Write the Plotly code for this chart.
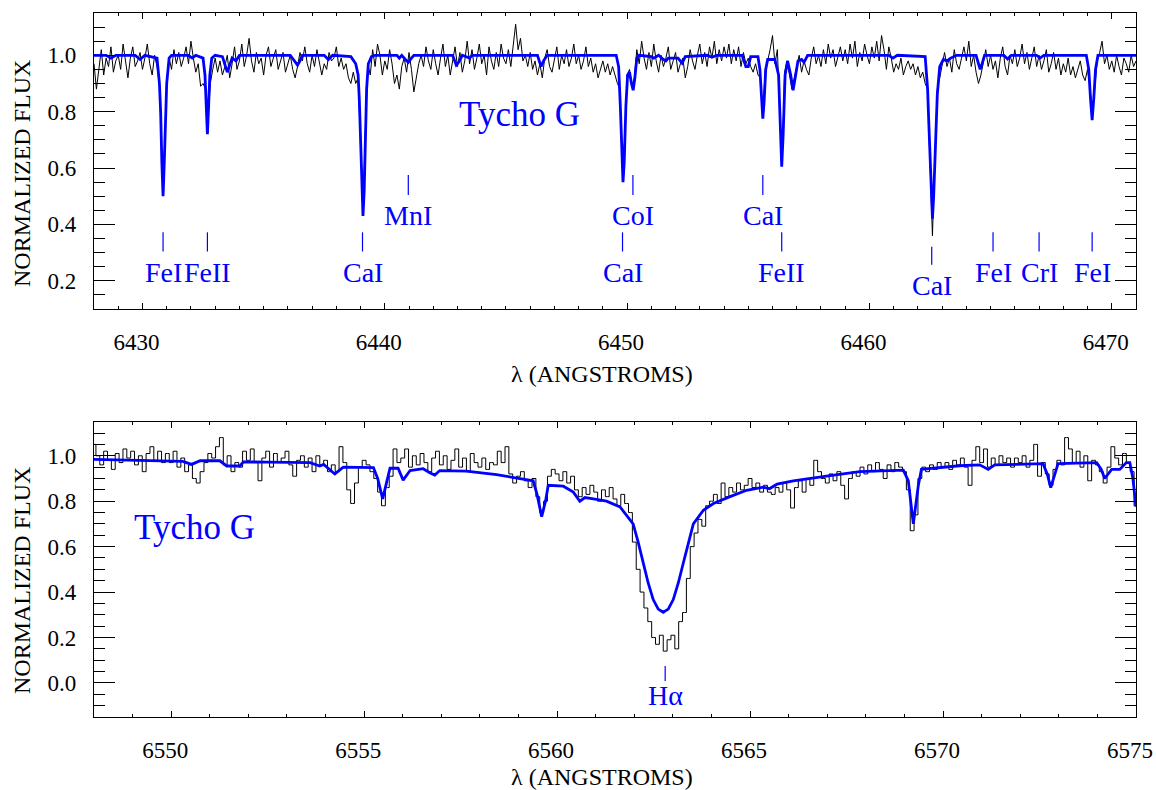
import numpy as np
import plotly.graph_objs as go

# ---------------- data ----------------
# observed spectra, sampled every 0.1 A starting at the given wavelength
top_obs_start = 6428.0
top_obs_flux = [
    0.97, 0.88, 0.95, 1.02, 0.93, 0.99, 0.96, 1.03, 0.94, 0.98,
    1.00, 0.95, 1.04, 0.97, 0.92, 0.99, 1.03, 0.96, 0.98, 1.01,
    0.95, 0.99, 1.04, 0.97, 0.93, 1.00, 0.96, 0.90, 0.64, 0.64,
    0.91, 0.99, 0.95, 1.02, 0.97, 1.01, 0.96, 0.99, 1.03, 0.97,
    1.05, 0.99, 0.94, 0.97, 0.89, 0.90, 0.88, 0.76, 0.90, 0.95,
    0.99, 0.94, 0.98, 0.93, 0.96, 1.00, 0.92, 0.97, 1.03, 0.95,
    0.98, 1.04, 0.96, 1.00, 1.06, 0.98, 0.94, 1.01, 0.97, 0.99,
    0.93, 1.00, 1.03, 0.96, 0.99, 1.02, 0.95, 0.98, 1.01, 0.94,
    0.97, 1.00, 0.95, 0.92, 0.96, 1.01, 0.98, 1.03, 0.97, 0.94,
    1.00, 0.96, 1.02, 0.98, 0.93, 0.97, 0.95, 1.01, 0.98, 0.99,
    1.03, 0.96, 0.99, 0.95, 0.97, 0.92, 0.90, 0.94, 0.90, 0.92,
    0.70, 0.45, 0.74, 0.97, 0.93, 1.02, 0.96, 1.04, 1.00, 0.93,
    0.98, 0.95, 1.02, 0.97, 0.90, 0.93, 0.88, 0.96, 0.99, 0.94,
    1.01, 0.95, 0.87, 0.92, 0.97, 1.00, 0.96, 1.03, 0.98, 0.95,
    1.02, 0.97, 0.93, 0.99, 1.04, 0.96, 1.00, 0.93, 0.98, 1.03,
    0.96, 1.01, 0.94, 0.98, 1.05, 0.97, 1.02, 0.95, 0.99, 1.04,
    0.97, 1.00, 0.93, 1.03, 0.98, 0.95, 1.01, 0.96, 1.04, 0.99,
    0.97, 1.02, 0.96, 1.03, 1.11, 1.02, 1.06, 0.98, 1.00, 0.96,
    1.01, 0.95, 0.98, 0.93, 0.97, 0.92, 0.99, 1.02, 0.96, 0.94,
    0.99, 1.03, 0.95, 1.00, 0.97, 1.02, 0.96, 0.99, 1.04, 0.97,
    1.00, 0.95, 0.98, 1.03, 0.96, 0.99, 0.94, 0.97, 0.92, 0.95,
    0.98, 0.94, 0.97, 0.93, 0.96, 0.93, 0.90, 0.88, 0.60, 0.70,
    0.93, 0.95, 0.89, 0.92, 1.02, 0.97, 1.05, 0.99, 0.95, 1.01,
    0.96, 1.04, 0.98, 0.94, 1.00, 0.96, 0.99, 1.03, 0.95, 0.98,
    1.01, 0.94, 0.97, 0.99, 0.92, 0.96, 1.02, 0.98, 0.95, 1.00,
    1.04, 0.97, 1.01, 0.96, 1.03, 0.99, 1.05, 0.97, 1.02, 0.98,
    1.03, 0.99, 1.04, 0.97, 1.02, 0.98, 1.03, 0.96, 1.01, 0.97,
    0.99, 0.96, 0.94, 0.97, 0.93, 0.92, 0.79, 0.95, 0.98, 1.02,
    1.07, 0.97, 1.02, 0.80, 0.62, 0.94, 0.98, 0.93, 0.88, 0.92,
    0.96, 1.00, 0.94, 0.98, 0.95, 0.93, 0.99, 1.03, 0.97, 1.00,
    0.96, 1.02, 0.97, 1.04, 0.99, 1.02, 0.96, 1.00, 1.03, 0.98,
    1.02, 0.97, 1.04, 0.99, 1.05, 0.96, 1.01, 0.98, 1.04, 1.00,
    0.97, 1.03, 0.99, 1.05, 0.98, 1.07, 1.02, 0.95, 1.03, 0.99,
    0.94, 0.97, 0.95, 0.99, 0.93, 0.96, 0.98, 0.95, 0.97, 0.93,
    0.96, 0.92, 0.94, 0.90, 0.88, 0.62, 0.36, 0.63, 0.88, 0.92,
    0.97, 1.01, 0.96, 0.99, 0.94, 1.02, 0.97, 0.95, 0.99, 1.03,
    0.98, 1.05, 0.96, 1.00, 0.94, 0.90, 0.93, 0.97, 1.02, 0.96,
    1.00, 0.95, 0.98, 0.92, 0.99, 1.03, 0.96, 0.93, 1.00, 0.97,
    1.02, 0.96, 0.99, 1.04, 0.97, 1.01, 0.95, 0.99, 1.03, 0.96,
    1.00, 0.95, 0.98, 1.02, 0.94, 0.97, 1.01, 0.95, 0.99, 0.93,
    0.97, 0.94, 0.99, 0.93, 0.96, 0.92, 0.95, 0.98, 0.93, 0.91,
    0.95, 0.89, 0.79, 0.88, 0.98, 1.01, 1.05, 0.97, 1.00, 0.95,
    0.98, 0.94, 1.00, 0.96, 0.93, 0.99, 0.97, 0.94, 1.00, 0.96,
    0.98,
]

bot_obs_start = 6548.0
bot_obs_flux = [
    1.05, 1.00, 0.96, 1.02, 0.98, 0.94, 1.01, 0.97, 1.03, 0.99,
    1.02, 0.96, 1.00, 0.93, 1.01, 1.04, 0.98, 1.02, 0.97, 1.01,
    0.97, 1.02, 0.95, 0.99, 0.93, 0.96, 0.90, 0.88, 0.93, 0.97,
    1.01, 0.99, 1.04, 1.08, 0.96, 1.00, 0.93, 0.97, 0.95, 1.02,
    0.98, 1.03, 0.97, 0.89, 0.99, 1.02, 0.95, 1.01, 0.97, 0.99,
    1.02, 0.96, 0.91, 0.98, 1.00, 0.95, 0.99, 0.93, 1.00, 0.96,
    0.98, 0.93, 0.96, 0.93, 1.04, 0.97, 0.85, 0.79, 0.88, 0.95,
    0.98, 0.96, 0.93, 0.90, 0.84, 0.78, 0.86, 0.91, 1.03, 0.97,
    0.99, 1.03, 0.95, 1.00, 0.96, 1.01, 0.97, 0.93, 0.99, 1.02,
    0.96, 1.00, 0.94, 0.98, 1.03, 0.95, 0.99, 0.93, 1.01, 0.97,
    0.95, 0.99, 0.94, 0.97, 0.96, 1.02, 0.97, 1.04, 0.92, 0.88,
    0.91, 0.93, 0.89, 0.86, 0.90, 0.82, 0.75, 0.80, 0.91, 0.94,
    0.92, 0.89, 0.93, 0.88, 0.91, 0.85, 0.82, 0.86, 0.83, 0.87,
    0.84, 0.80, 0.85, 0.82, 0.86, 0.81, 0.78, 0.83, 0.79, 0.75,
    0.62, 0.50, 0.40, 0.33, 0.27, 0.20, 0.17, 0.21, 0.14, 0.19,
    0.21, 0.15, 0.27, 0.31, 0.46, 0.60, 0.66, 0.72, 0.69, 0.78,
    0.80, 0.83, 0.79, 0.88, 0.82, 0.86, 0.84, 0.88, 0.85, 0.87,
    0.90, 0.86, 0.88, 0.84, 0.87, 0.84, 0.83, 0.86, 0.84, 0.88,
    0.85, 0.77, 0.86, 0.89, 0.84, 0.90, 0.87, 0.98, 0.93, 0.90,
    0.88, 0.92, 0.89, 0.93, 0.87, 0.81, 0.90, 0.93, 0.91, 0.95,
    0.92, 0.96, 0.93, 0.97, 0.94, 0.90, 0.96, 0.93, 0.97, 0.95,
    0.93, 0.85, 0.67, 0.74, 0.90, 0.95, 0.93, 0.96, 0.94, 0.97,
    0.95, 0.97, 0.94, 0.98, 0.96, 0.99, 0.95, 0.87, 0.98, 1.04,
    0.97, 1.03, 0.95, 0.99, 0.96, 1.00, 0.97, 0.99, 0.95, 0.99,
    0.97, 1.00, 0.95, 0.98, 1.05, 0.91, 0.97, 0.92, 0.87, 0.94,
    0.98, 0.96, 1.08, 1.03, 0.97, 1.02, 0.95, 1.00, 0.89, 0.98,
    0.96, 0.93, 0.88, 0.95, 1.04, 0.99, 0.96, 1.01, 0.97, 0.93,
    0.78,
]

# synthetic (model) spectra
top_model_wave = [
    6428.0, 6428.5, 6428.7, 6428.9, 6429.7, 6429.9, 6430.1, 6430.6, 6430.7, 6430.75,
    6430.8, 6430.85, 6430.9, 6430.95, 6431.0, 6431.1, 6431.2, 6431.9, 6432.05, 6432.2,
    6432.5, 6432.58, 6432.63, 6432.68, 6432.73, 6432.78, 6432.86, 6433.0, 6433.3, 6433.42,
    6433.5, 6433.58, 6433.7, 6433.86, 6434.0, 6436.1, 6436.3, 6436.4, 6436.5, 6436.6,
    6437.5, 6437.67, 6437.85, 6438.6, 6438.8, 6438.9, 6438.95, 6439.0, 6439.05, 6439.1,
    6439.15, 6439.2, 6439.25, 6439.32, 6439.45, 6439.6, 6440.5, 6440.6, 6440.7, 6440.85,
    6440.97, 6441.1, 6441.2, 6442.8, 6442.95, 6443.05, 6443.2, 6443.5, 6443.6, 6446.3,
    6446.45, 6446.55, 6446.7, 6449.55, 6449.65, 6449.72, 6449.78, 6449.83, 6449.88, 6449.95,
    6450.02, 6450.1, 6450.18, 6450.25, 6450.32, 6450.4, 6450.5, 6451.0, 6451.1, 6451.3,
    6451.5, 6451.6, 6451.7, 6452.1, 6452.27, 6452.4, 6453.3, 6453.5, 6453.7, 6454.75,
    6454.9, 6455.0, 6455.1, 6455.4, 6455.48, 6455.55, 6455.6, 6455.65, 6455.72, 6455.8,
    6456.1, 6456.25, 6456.32, 6456.38, 6456.44, 6456.52, 6456.62, 6456.75, 6456.85, 6456.95,
    6457.05, 6457.2, 6457.3, 6457.45, 6460.8, 6460.97, 6461.15, 6462.3, 6462.4, 6462.45,
    6462.5, 6462.55, 6462.6, 6462.65, 6462.7, 6462.75, 6462.8, 6462.9, 6463.05, 6463.2,
    6463.35, 6463.6, 6464.4, 6464.5, 6464.57, 6464.65, 6464.75, 6465.55, 6465.7, 6465.85,
    6466.9, 6467.04, 6467.2, 6468.95, 6469.05, 6469.12, 6469.19, 6469.26, 6469.33, 6469.43,
    6471.0,
]
top_model_flux = [
    1.0, 1.0, 0.99, 1.0, 1.0, 0.985, 1.0, 0.99, 0.9, 0.8,
    0.62, 0.50, 0.62, 0.8, 0.9, 0.99, 1.0, 1.0, 0.99, 1.0,
    0.99, 0.93, 0.82, 0.72, 0.82, 0.93, 0.99, 1.0, 0.995, 0.96,
    0.94, 0.96, 0.99, 0.98, 1.0, 1.0, 0.975, 0.965, 0.98, 1.0,
    1.0, 0.985, 1.0, 0.995, 0.97, 0.93, 0.84, 0.68, 0.50, 0.43,
    0.52, 0.72, 0.88, 0.97, 0.995, 1.0, 1.0, 0.99, 1.0, 0.985,
    0.975, 0.99, 1.0, 1.0, 0.965, 0.975, 1.0, 0.99, 1.0, 1.0,
    0.96, 0.98, 1.0, 1.0, 0.96, 0.82, 0.62, 0.55, 0.62, 0.82,
    0.93, 0.94, 0.90, 0.876, 0.92, 0.99, 1.0, 0.995, 0.99, 1.0,
    0.985, 0.98, 0.99, 0.99, 0.972, 0.995, 1.0, 0.993, 1.0, 1.0,
    0.96, 0.96, 0.995, 0.995, 0.95, 0.83, 0.775, 0.83, 0.95, 0.985,
    0.985, 0.93, 0.72, 0.605, 0.72, 0.93, 0.98, 0.93, 0.876, 0.93,
    0.98, 0.985, 0.975, 1.0, 1.0, 0.99, 1.0, 0.995, 0.88, 0.76,
    0.62, 0.50, 0.42, 0.50, 0.62, 0.74, 0.86, 0.96, 0.985, 0.98,
    0.99, 1.0, 1.0, 0.97, 0.95, 0.97, 1.0, 1.0, 0.987, 1.0,
    1.0, 0.99, 1.0, 1.0, 0.95, 0.85, 0.77, 0.85, 0.95, 1.0,
    1.0,
]

bot_model_wave = [
    6548.0, 6549.0, 6549.88, 6550.3, 6550.53, 6550.75, 6551.26, 6551.44, 6551.78, 6551.87,
    6552.5, 6553.6, 6553.85, 6553.95, 6554.24, 6554.46, 6555.24, 6555.35, 6555.48, 6555.6,
    6555.67, 6555.88, 6556.01, 6556.19, 6556.53, 6556.7, 6556.83, 6556.96, 6557.65, 6558.43,
    6559.38, 6559.48, 6559.6, 6559.7, 6559.77, 6560.16, 6560.42, 6560.59, 6560.72, 6560.94,
    6561.28, 6561.63, 6561.97, 6562.1, 6562.23, 6562.36, 6562.49, 6562.62, 6562.75, 6562.88,
    6563.01, 6563.14, 6563.27, 6563.4, 6563.53, 6563.79, 6564.05, 6564.48, 6564.91, 6565.34,
    6565.5, 6565.7, 6566.12, 6566.98, 6567.84, 6568.97, 6569.1, 6569.23, 6569.36, 6569.44,
    6570.43, 6570.95, 6571.17, 6571.34, 6572.16, 6572.59, 6572.7, 6572.79, 6572.9, 6572.98,
    6573.98, 6574.1, 6574.19, 6574.37, 6574.58, 6574.75, 6574.84, 6574.92, 6575.0,
]
bot_model_flux = [
    0.984, 0.98, 0.977, 0.975, 0.962, 0.978, 0.978, 0.955, 0.955, 0.973,
    0.972, 0.97, 0.955, 0.962, 0.92, 0.95, 0.948, 0.9, 0.81, 0.9,
    0.945, 0.945, 0.893, 0.935, 0.943, 0.925, 0.915, 0.935, 0.932, 0.917,
    0.89, 0.83, 0.732, 0.8, 0.87, 0.866, 0.84, 0.80, 0.816, 0.81,
    0.80, 0.775, 0.70, 0.62, 0.528, 0.44, 0.367, 0.325, 0.311, 0.325,
    0.367, 0.44, 0.528, 0.62, 0.70, 0.76, 0.79, 0.82, 0.848, 0.862,
    0.855, 0.875, 0.89, 0.91, 0.93, 0.937, 0.89, 0.70, 0.87, 0.94,
    0.956, 0.96, 0.94, 0.96, 0.965, 0.965, 0.92, 0.86, 0.92, 0.965,
    0.97, 0.94, 0.90, 0.94, 0.94, 0.97, 0.97, 0.9, 0.776,
]

# line identifications
top_line_wave = [6430.85, 6432.68, 6439.08, 6440.97, 6449.81, 6450.24,
                 6455.60, 6456.38, 6462.57, 6465.10, 6467.00, 6469.19]
top_line_name = ['FeI', 'FeII', 'CaI', 'MnI', 'CaI', 'CoI',
                 'CaI', 'FeII', 'CaI', 'FeI', 'CrI', 'FeI']
top_line_row = ['low', 'low', 'low', 'high', 'low', 'high',
                'high', 'low', 'lowest', 'low', 'low', 'low']
bot_line_wave = [6562.80]
bot_line_name = ['H\u03b1']

star_name = 'Tycho G'

# ---------------- layout helpers ----------------
W, H = 1156, 790
FONT = 'Liberation Serif'
BLUE = 'rgb(0,0,255)'

# marker tick (bottom, top) and label centre, in flux units, per row
row_pos = {'high': (0.504, 0.575, 0.430),
           'low': (0.304, 0.372, 0.230),
           'lowest': (0.257, 0.321, 0.182)}
bot_row_pos = (0.009, 0.075, -0.057)

top_wave = np.round(top_obs_start + 0.1 * np.arange(len(top_obs_flux)), 2)
bot_wave = np.round(bot_obs_start + 0.1 * np.arange(len(bot_obs_flux)), 2)

xdom = [94 / W, 1136 / W]
ydom_top = [1 - 309 / H, 1 - 13 / H]
ydom_bot = [1 - 717 / H, 1 - 421.7 / H]

fig = go.Figure()

# top panel
fig.add_trace(go.Scatter(x=top_wave, y=top_obs_flux, mode='lines',
                         line=dict(color='black', width=1), xaxis='x', yaxis='y'))
fig.add_trace(go.Scatter(x=top_model_wave, y=top_model_flux, mode='lines',
                         line=dict(color=BLUE, width=2.8), xaxis='x', yaxis='y'))
tx, ty = [], []
for w, r in zip(top_line_wave, top_line_row):
    lo, hi, _ = row_pos[r]
    tx += [w, w, None]
    ty += [lo, hi, None]
fig.add_trace(go.Scatter(x=tx, y=ty, mode='lines', line=dict(color=BLUE, width=1.2),
                         xaxis='x', yaxis='y'))

# bottom panel
fig.add_trace(go.Scatter(x=bot_wave, y=bot_obs_flux, mode='lines', line_shape='hvh',
                         line=dict(color='black', width=1), xaxis='x2', yaxis='y2'))
fig.add_trace(go.Scatter(x=bot_model_wave, y=bot_model_flux, mode='lines',
                         line=dict(color=BLUE, width=2.8), xaxis='x2', yaxis='y2'))
bx, by = [], []
for w in bot_line_wave:
    bx += [w, w, None]
    by += [bot_row_pos[0], bot_row_pos[1], None]
fig.add_trace(go.Scatter(x=bx, y=by, mode='lines', line=dict(color=BLUE, width=1.2),
                         xaxis='x2', yaxis='y2'))

annotations = []
for w, name, r in zip(top_line_wave, top_line_name, top_line_row):
    annotations.append(dict(x=w, y=row_pos[r][2], xref='x', yref='y', text=name,
                            showarrow=False, xanchor='center', yanchor='middle',
                            font=dict(family=FONT, size=28, color=BLUE)))
for w, name in zip(bot_line_wave, bot_line_name):
    annotations.append(dict(x=w, y=bot_row_pos[2], xref='x2', yref='y2', text=name,
                            showarrow=False, xanchor='center', yanchor='middle',
                            font=dict(family=FONT, size=28, color=BLUE)))


def paper_text(xp, yp, text, size, color, angle=0):
    return dict(x=xp / W, y=1 - yp / H, xref='paper', yref='paper', text=text,
                textangle=angle, showarrow=False, xanchor='center', yanchor='middle',
                font=dict(family=FONT, size=size, color=color))


# star labels
annotations.append(paper_text(519, 114, star_name, 35, BLUE))
annotations.append(paper_text(194, 527, star_name, 35, BLUE))

# axis titles
for yc in [174, 581]:
    annotations.append(paper_text(22, yc, 'NORMALIZED FLUX', 24, 'black', -90))
for yc in [374, 777]:
    annotations.append(paper_text(602, yc, '\u03bb (ANGSTROMS)', 24, 'black'))

common = dict(showline=True, linecolor='black', linewidth=1.3, mirror='ticks',
              ticks='inside', tickcolor='black', tickwidth=1.3, showgrid=False,
              zeroline=False, automargin=False,
              tickfont=dict(family=FONT, size=23, color='black'))

xcommon = dict(common, ticklen=6, ticklabelshift=-6, ticklabelstandoff=12,
               minor=dict(dtick=1, ticklen=3, ticks='inside', tickcolor='black', tickwidth=1))
ycommon = dict(common, ticklen=21, tickformat='.1f', tick0=0, dtick=0.2,
               ticklabelstandoff=12,
               minor=dict(dtick=0.05, ticklen=11, ticks='inside', tickcolor='black', tickwidth=1))

fig.update_layout(
    width=W, height=H, autosize=False,
    margin=dict(l=0, r=0, t=0, b=0, pad=0),
    paper_bgcolor='white', plot_bgcolor='white',
    showlegend=False,
    xaxis=dict(xcommon, domain=xdom, anchor='y', range=[6428, 6471], tick0=6430, dtick=10),
    yaxis=dict(ycommon, domain=ydom_top, anchor='x', range=[0.1, 1.15]),
    xaxis2=dict(xcommon, domain=xdom, anchor='y2', range=[6548, 6575], tick0=6550, dtick=5),
    yaxis2=dict(ycommon, domain=ydom_bot, anchor='x2', range=[-0.15, 1.15]),
    annotations=annotations,
)

fig.write_html(
    "out.html",
    config={'displayModeBar': False},
    post_script="document.body.style.margin='0';document.body.style.overflow='hidden';",
)
